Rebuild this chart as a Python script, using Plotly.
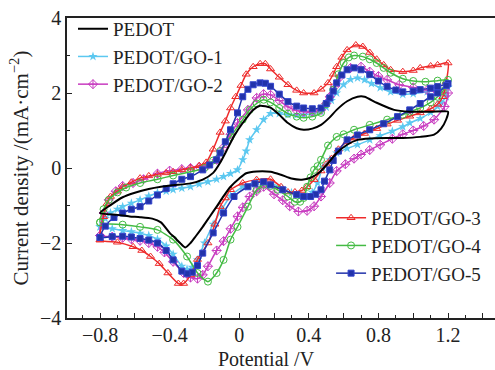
import plotly.graph_objects as go

# ---------------- data (potential V, current density mA/cm2) ----------------
pedot_v = [-0.80,-0.74,-0.67,-0.60,-0.52,-0.45,-0.38,-0.28,-0.21,-0.15,-0.11,-0.07,-0.03,0.02,0.08,0.12,0.18,0.23,0.28,0.33,0.37,0.42,0.47,0.52,0.56,0.62,0.68,0.72,0.79,0.89,0.98,1.10,1.20,
           1.19,1.16,1.12,1.04,0.94,0.85,0.75,0.68,0.62,0.56,0.51,0.46,0.41,0.36,0.30,0.24,0.18,0.10,0.04,0.00,-0.05,-0.09,-0.13,-0.17,-0.21,-0.25,-0.28,-0.31,-0.34,-0.37,-0.40,-0.45,-0.50,-0.57,-0.63,-0.70,-0.80]
pedot_j = [-1.20,-0.99,-0.78,-0.66,-0.56,-0.50,-0.46,-0.41,-0.31,-0.13,0.14,0.49,0.85,1.20,1.55,1.66,1.61,1.42,1.20,1.06,1.02,1.05,1.15,1.35,1.55,1.78,1.90,1.90,1.74,1.55,1.50,1.50,1.50,
           1.30,1.05,0.89,0.83,0.80,0.80,0.79,0.75,0.62,0.40,0.12,-0.12,-0.26,-0.31,-0.28,-0.18,-0.10,-0.09,-0.14,-0.28,-0.50,-0.75,-1.03,-1.30,-1.57,-1.82,-2.00,-2.12,-2.00,-1.86,-1.73,-1.45,-1.35,-1.31,-1.29,-1.25,-1.20]

go1_v = [-0.80,-0.77,-0.74,-0.70,-0.67,-0.62,-0.57,-0.52,-0.47,-0.42,-0.38,-0.33,-0.28,-0.23,-0.18,-0.13,-0.09,-0.05,-0.01,0.02,0.04,0.06,0.10,0.14,0.18,0.23,0.28,0.33,0.37,0.42,0.47,0.50,0.53,0.56,0.60,0.64,0.68,0.72,0.76,0.81,0.87,0.94,1.00,1.08,1.14,1.20,
         1.19,1.16,1.14,1.10,1.04,0.98,0.94,0.88,0.81,0.75,0.68,0.62,0.56,0.52,0.48,0.45,0.42,0.39,0.35,0.30,0.25,0.18,0.10,0.02,-0.05,-0.10,-0.15,-0.20,-0.24,-0.27,-0.30,-0.33,-0.38,-0.42,-0.47,-0.52,-0.57,-0.62,-0.67,-0.73,-0.80]
go1_j = [-1.57,-1.35,-1.20,-1.10,-1.03,-0.94,-0.85,-0.75,-0.66,-0.62,-0.58,-0.54,-0.50,-0.43,-0.37,-0.30,-0.23,-0.15,-0.05,0.22,0.45,0.75,1.02,1.29,1.45,1.45,1.42,1.41,1.42,1.45,1.50,1.62,1.80,2.00,2.22,2.36,2.40,2.35,2.25,2.14,2.03,1.96,1.98,2.03,2.08,2.15,
         1.90,1.75,1.64,1.48,1.32,1.20,1.10,0.98,0.86,0.75,0.62,0.52,0.40,0.22,0.02,-0.40,-0.65,-0.76,-0.75,-0.66,-0.55,-0.40,-0.37,-0.50,-0.75,-1.10,-1.50,-2.00,-2.45,-2.65,-2.70,-2.62,-2.30,-2.08,-1.90,-1.80,-1.74,-1.70,-1.67,-1.62,-1.57]

go2_v = [-0.80,-0.78,-0.75,-0.71,-0.67,-0.61,-0.55,-0.47,-0.40,-0.33,-0.28,-0.23,-0.18,-0.13,-0.09,-0.05,-0.01,0.05,0.10,0.14,0.18,0.23,0.28,0.33,0.37,0.42,0.47,0.50,0.52,0.55,0.58,0.64,0.70,0.75,0.80,0.85,0.92,1.00,1.08,1.14,1.20,
         1.18,1.12,1.06,1.00,0.94,0.88,0.81,0.75,0.70,0.66,0.61,0.56,0.52,0.47,0.43,0.39,0.34,0.29,0.25,0.20,0.14,0.10,0.06,0.02,-0.01,-0.05,-0.09,-0.13,-0.18,-0.21,-0.24,-0.28,-0.32,-0.38,-0.43,-0.47,-0.52,-0.57,-0.62,-0.67,-0.73,-0.80]
go2_j = [-1.80,-1.20,-0.85,-0.62,-0.48,-0.40,-0.30,-0.15,-0.07,-0.03,0.00,0.03,0.08,0.22,0.55,0.90,1.20,1.55,1.87,1.97,1.95,1.80,1.63,1.53,1.50,1.50,1.55,1.72,1.90,2.18,2.43,2.67,2.70,2.57,2.45,2.35,2.22,2.15,2.08,2.03,2.00,
         1.64,1.29,1.12,1.00,0.90,0.78,0.62,0.48,0.36,0.25,0.10,-0.08,-0.40,-0.76,-1.02,-1.14,-1.16,-1.02,-0.86,-0.70,-0.50,-0.62,-0.76,-1.05,-1.29,-1.62,-1.95,-2.20,-2.62,-2.85,-2.95,-2.92,-2.80,-2.50,-2.25,-2.10,-2.00,-1.94,-1.90,-1.86,-1.83,-1.80]

go3_v = [-0.80,-0.78,-0.76,-0.74,-0.70,-0.67,-0.62,-0.57,-0.52,-0.47,-0.42,-0.38,-0.33,-0.28,-0.23,-0.19,-0.15,-0.11,-0.08,-0.05,-0.02,0.01,0.04,0.08,0.12,0.15,0.18,0.23,0.28,0.33,0.37,0.43,0.47,0.51,0.54,0.56,0.59,0.62,0.67,0.71,0.75,0.79,0.83,0.87,0.94,1.00,1.04,1.10,1.14,1.20,
         1.19,1.17,1.14,1.10,1.04,0.98,0.91,0.85,0.79,0.72,0.66,0.62,0.57,0.53,0.50,0.47,0.43,0.39,0.36,0.32,0.28,0.24,0.18,0.10,0.02,-0.05,-0.08,-0.11,-0.14,-0.18,-0.24,-0.28,-0.32,-0.35,-0.41,-0.46,-0.51,-0.56,-0.61,-0.70,-0.80]
go3_j = [-1.92,-1.30,-0.95,-0.76,-0.62,-0.50,-0.38,-0.27,-0.21,-0.17,-0.13,-0.10,-0.05,0.00,0.06,0.15,0.50,0.95,1.25,1.60,1.90,2.20,2.50,2.70,2.78,2.78,2.64,2.42,2.22,2.07,2.00,2.00,2.10,2.27,2.50,2.70,2.95,3.15,3.28,3.24,3.08,2.90,2.75,2.62,2.57,2.60,2.67,2.72,2.75,2.80,
         2.30,1.90,1.70,1.58,1.47,1.38,1.27,1.17,1.05,0.92,0.80,0.70,0.50,0.25,0.10,-0.08,-0.31,-0.50,-0.60,-0.64,-0.64,-0.50,-0.30,-0.31,-0.40,-0.58,-0.80,-1.03,-1.50,-2.00,-2.44,-2.85,-3.08,-3.08,-2.80,-2.55,-2.36,-2.20,-2.10,-1.98,-1.92]

go4_v = [-0.80,-0.78,-0.75,-0.70,-0.65,-0.57,-0.47,-0.38,-0.28,-0.20,-0.15,-0.11,-0.05,0.02,0.06,0.10,0.14,0.18,0.23,0.28,0.33,0.37,0.42,0.47,0.50,0.54,0.57,0.60,0.63,0.66,0.71,0.75,0.79,0.83,0.87,0.94,1.00,1.07,1.14,1.20,
         1.19,1.17,1.14,1.10,1.04,0.98,0.94,0.85,0.75,0.66,0.60,0.56,0.51,0.47,0.45,0.43,0.41,0.39,0.37,0.35,0.32,0.28,0.22,0.18,0.14,0.10,0.05,-0.01,-0.05,-0.09,-0.13,-0.18,-0.24,-0.30,-0.38,-0.47,-0.57,-0.67,-0.80]
go4_j = [-1.45,-1.10,-0.85,-0.65,-0.52,-0.40,-0.30,-0.20,-0.10,0.00,0.20,0.45,0.83,1.29,1.55,1.72,1.82,1.75,1.60,1.45,1.37,1.34,1.37,1.47,1.70,2.09,2.50,2.80,2.95,3.00,2.97,2.90,2.80,2.67,2.54,2.38,2.32,2.30,2.33,2.35,
         2.27,2.05,1.90,1.75,1.60,1.50,1.42,1.29,1.15,1.02,0.90,0.83,0.60,0.22,0.05,-0.05,-0.25,-0.50,-0.80,-0.90,-0.90,-0.76,-0.58,-0.48,-0.45,-0.58,-1.03,-1.57,-1.91,-2.45,-2.80,-3.03,-2.80,-2.36,-1.91,-1.65,-1.57,-1.51,-1.45]

go5_v = [-0.80,-0.77,-0.72,-0.67,-0.62,-0.57,-0.52,-0.47,-0.42,-0.38,-0.33,-0.28,-0.21,-0.17,-0.13,-0.11,-0.08,-0.05,-0.01,0.02,0.05,0.08,0.12,0.15,0.18,0.23,0.28,0.33,0.37,0.42,0.47,0.50,0.52,0.54,0.56,0.59,0.62,0.66,0.70,0.75,0.80,0.85,0.90,0.94,1.00,1.04,1.10,1.14,1.20,
         1.19,1.14,1.10,1.04,0.98,0.91,0.83,0.75,0.68,0.62,0.57,0.54,0.52,0.49,0.47,0.44,0.41,0.37,0.33,0.25,0.18,0.14,0.09,0.05,-0.03,-0.09,-0.15,-0.21,-0.24,-0.27,-0.30,-0.33,-0.38,-0.42,-0.47,-0.52,-0.57,-0.62,-0.67,-0.73,-0.80]
go5_j = [-1.85,-1.55,-1.32,-1.20,-1.10,-1.03,-0.88,-0.72,-0.55,-0.42,-0.30,-0.23,-0.05,0.08,0.22,0.40,0.70,1.02,1.47,1.90,2.10,2.22,2.27,2.26,2.18,1.97,1.77,1.65,1.60,1.58,1.60,1.72,1.87,2.05,2.27,2.48,2.62,2.67,2.62,2.49,2.32,2.17,2.08,2.03,2.05,2.09,2.13,2.17,2.25,
         2.20,2.00,1.90,1.72,1.55,1.37,1.18,1.02,0.88,0.75,0.45,0.20,-0.05,-0.35,-0.58,-0.70,-0.76,-0.76,-0.71,-0.58,-0.45,-0.37,-0.42,-0.50,-0.76,-1.20,-1.73,-2.27,-2.60,-2.78,-2.82,-2.75,-2.45,-2.20,-2.00,-1.92,-1.88,-1.84,-1.82,-1.83,-1.85]

names = ["PEDOT", "PEDOT/GO-1", "PEDOT/GO-2", "PEDOT/GO-3", "PEDOT/GO-4", "PEDOT/GO-5"]
colors = ["#000000", "#5cc8f0", "#c83cc0", "#ee2b2b", "#44bb44", "#2233aa"]

x_tickvals = [-0.8, -0.6, -0.4, -0.2, 0.0, 0.2, 0.4, 0.6, 0.8, 1.0, 1.2, 1.4]
x_ticktext = ["\u22120.8", " ", "\u22120.4", " ", "0", " ", "0.4", " ", "0.8", " ", "1.2", " "]
y_tickvals = [-4, -2, 0, 2, 4]
y_ticktext = ["\u22124", "\u22122", "0", "2", "4"]

FONT = "Liberation Serif, DejaVu Serif, serif"
TXT = "#222222"

fig = go.Figure()

series = [
    (go1_v, go1_j, dict(symbol="star", size=7, color=colors[1]), "legend", 2),
    (go2_v, go2_j, dict(symbol="diamond-cross-open", size=7, color=colors[2], line=dict(width=1, color=colors[2])), "legend", 3),
    (go3_v, go3_j, dict(symbol="triangle-up-open", size=7, color=colors[3], line=dict(width=1, color=colors[3])), "legend2", 4),
    (go4_v, go4_j, dict(symbol="circle-open", size=7, color=colors[4], line=dict(width=1, color=colors[4])), "legend2", 5),
    (go5_v, go5_j, dict(symbol="square", size=6, color=colors[5], line=dict(width=1, color="#3344cc")), "legend2", 6),
]
for i, (v, j, mk, lg, rank) in enumerate(series, start=1):
    fig.add_trace(go.Scatter(
        x=v, y=j, mode="lines+markers", name=names[i],
        line=dict(color=colors[i], width=1.5, shape="spline", smoothing=0.6),
        marker=mk, legend=lg, legendrank=rank,
    ))

fig.add_trace(go.Scatter(
    x=pedot_v, y=pedot_j, mode="lines", name=names[0],
    line=dict(color=colors[0], width=2, shape="spline", smoothing=0.6),
    legend="legend", legendrank=1,
))

fig.update_layout(
    width=495, height=370,
    margin=dict(l=67, r=0, t=18, b=52),
    paper_bgcolor="white", plot_bgcolor="white",
    font=dict(family=FONT, size=20, color=TXT),
    showlegend=True,
    legend=dict(x=0.014, y=1.027, xanchor="left", yanchor="top",
                bgcolor="rgba(0,0,0,0)", font=dict(family=FONT, size=19, color=TXT),
                tracegroupgap=0, itemwidth=30),
    legend2=dict(x=0.617, y=0.397, xanchor="left", yanchor="top",
                 bgcolor="rgba(0,0,0,0)", font=dict(family=FONT, size=19, color=TXT),
                 tracegroupgap=0, itemwidth=30),
    xaxis=dict(
        range=[-0.99, 1.47], showgrid=False, zeroline=False,
        showline=True, linecolor=TXT, linewidth=1.5, mirror=True,
        ticks="inside", ticklen=5, tickwidth=1, tickcolor=TXT,
        tickmode="array", tickvals=x_tickvals, ticktext=x_ticktext,
        ticklabelstandoff=-2,
        minor=dict(ticks="inside", ticklen=3, tickwidth=1, tickcolor=TXT, dtick=0.1, tick0=0, showgrid=False),
        tickfont=dict(family=FONT, size=20, color=TXT),
    ),
    yaxis=dict(
        range=[-4, 4], showgrid=False, zeroline=False,
        showline=True, linecolor=TXT, linewidth=1.5, mirror=False,
        ticks="inside", ticklen=5, tickwidth=1, tickcolor=TXT,
        tickmode="array", tickvals=y_tickvals, ticktext=y_ticktext,
        minor=dict(ticks="inside", ticklen=3, tickwidth=1, tickcolor=TXT, dtick=1, tick0=0, showgrid=False),
        title=dict(text="Current density /(mA·cm<sup>\u22122</sup>)", font=dict(family=FONT, size=21, color=TXT), standoff=6),
        tickfont=dict(family=FONT, size=20, color=TXT),
    ),
    annotations=[dict(
        text="Potential /V", xref="paper", yref="paper", x=0.467, y=-0.137,
        xanchor="center", yanchor="middle", showarrow=False,
        font=dict(family=FONT, size=20, color=TXT),
    )],
)

fig.write_html("out.html")
